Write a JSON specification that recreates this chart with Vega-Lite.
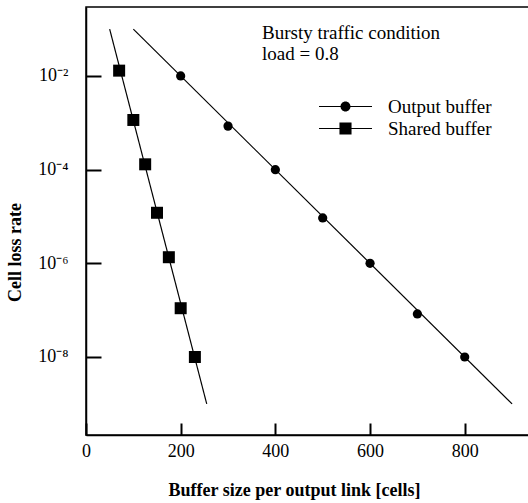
{
  "$schema": "https://vega.github.io/schema/vega-lite/v6.json",
  "width": 445,
  "height": 428,
  "autosize": "none",
  "padding": {"left": 86, "top": 7, "right": 0, "bottom": 68},
  "background": "white",
  "config": {
    "view": {"stroke": "black", "strokeWidth": 1.5},
    "font": "Liberation Serif",
    "axis": {
      "labelFont": "Liberation Serif",
      "titleFont": "Liberation Serif",
      "labelColor": "black",
      "titleColor": "black",
      "tickColor": "black",
      "domainColor": "black",
      "domainWidth": 1.5,
      "tickWidth": 2,
      "grid": false,
      "labelFlush": false,
      "labelFontSize": 18,
      "titleFontSize": 18,
      "titleFontWeight": "bold"
    }
  },
  "title": {
    "text": ["Bursty traffic condition", "load = 0.8"],
    "anchor": "start",
    "frame": "group",
    "orient": "top",
    "offset": -57,
    "dx": 176,
    "font": "Liberation Serif",
    "fontSize": 19,
    "fontWeight": "normal",
    "color": "black",
    "lineHeight": 21
  },
  "datasets": {
    "fit": [
      {"series": "Output buffer", "x": 100, "y": 1e-1},
      {"series": "Output buffer", "x": 900, "y": 1e-9},
      {"series": "Shared buffer", "x": 50, "y": 1e-1},
      {"series": "Shared buffer", "x": 255, "y": 1e-9}
    ],
    "points": [
      {"series": "Output buffer", "x": 200, "y": 1.0e-2},
      {"series": "Output buffer", "x": 300, "y": 8.5e-4},
      {"series": "Output buffer", "x": 400, "y": 1.0e-4},
      {"series": "Output buffer", "x": 500, "y": 9.3e-6},
      {"series": "Output buffer", "x": 600, "y": 1.0e-6},
      {"series": "Output buffer", "x": 700, "y": 8.3e-8},
      {"series": "Output buffer", "x": 800, "y": 1.0e-8},
      {"series": "Shared buffer", "x": 70, "y": 1.3e-2},
      {"series": "Shared buffer", "x": 100, "y": 1.15e-3},
      {"series": "Shared buffer", "x": 125, "y": 1.3e-4},
      {"series": "Shared buffer", "x": 150, "y": 1.2e-5},
      {"series": "Shared buffer", "x": 175, "y": 1.35e-6},
      {"series": "Shared buffer", "x": 200, "y": 1.1e-7},
      {"series": "Shared buffer", "x": 230, "y": 1.0e-8}
    ]
  },
  "layer": [
    {
      "data": {"name": "fit"},
      "mark": {"type": "line", "color": "black", "strokeWidth": 1.2},
      "encoding": {
        "x": {
          "field": "x",
          "type": "quantitative",
          "scale": {"domain": [0, 940], "nice": false, "zero": false},
          "axis": {
            "orient": "bottom",
            "values": [0, 200, 400, 600, 800],
            "tickSize": -12,
            "labelPadding": 19,
            "title": "Buffer size per output link [cells]",
            "titleX": 208,
            "titleY": 55,
            "titleAlign": "center",
            "titleBaseline": "middle"
          }
        },
        "y": {
          "field": "y",
          "type": "quantitative",
          "scale": {"type": "log", "domain": [2.16e-10, 0.297], "nice": false, "zero": false},
          "axis": {
            "orient": "left",
            "values": [1e-2, 1e-4, 1e-6, 1e-8],
            "labelExpr": "datum.value > 0.005 ? '10⁻²' : datum.value > 0.00005 ? '10⁻⁴' : datum.value > 0.0000005 ? '10⁻⁶' : '10⁻⁸'",
            "tickSize": -15,
            "labelPadding": 33,
            "title": "Cell loss rate",
            "titleX": -71,
            "titleY": 245,
            "titleAngle": -90,
            "titleAlign": "center",
            "titleBaseline": "middle"
          }
        },
        "detail": {"field": "series"}
      }
    },
    {
      "data": {"name": "points"},
      "mark": {"type": "point", "filled": true, "color": "black", "opacity": 1},
      "encoding": {
        "x": {"field": "x", "type": "quantitative"},
        "y": {"field": "y", "type": "quantitative"},
        "shape": {
          "field": "series",
          "scale": {"domain": ["Output buffer", "Shared buffer"], "range": ["circle", "square"]},
          "legend": null
        },
        "size": {
          "field": "series",
          "scale": {"domain": ["Output buffer", "Shared buffer"], "range": [85, 144]},
          "legend": null
        }
      }
    },
    {
      "data": {"name": "points"},
      "mark": {"type": "point", "filled": true, "color": "black", "opacity": 0},
      "encoding": {
        "x": {"field": "x", "type": "quantitative"},
        "y": {"field": "y", "type": "quantitative"},
        "shape": {
          "field": "series",
          "scale": {
            "domain": ["Output buffer", "Shared buffer"],
            "range": [
              "M-2.5,-0.05 L-0.4,-0.05 L-0.4,0.05 L-2.5,0.05 Z M0.4,-0.05 L2.5,-0.05 L2.5,0.05 L0.4,0.05 Z M0.47,0 A0.47,0.47 0 1,1 -0.47,0 A0.47,0.47 0 1,1 0.47,0 Z",
              "M-2.5,-0.05 L-0.5,-0.05 L-0.5,0.05 L-2.5,0.05 Z M0.5,-0.05 L2.5,-0.05 L2.5,0.05 L0.5,0.05 Z M-0.57,-0.57 L0.57,-0.57 L0.57,0.57 L-0.57,0.57 Z"
            ]
          },
          "legend": {
            "title": null,
            "orient": "none",
            "legendX": 248,
            "legendY": 88,
            "symbolSize": 449,
            "labelFont": "Liberation Serif",
            "labelFontSize": 19,
            "labelColor": "black",
            "labelOffset": 31,
            "rowPadding": -5,
            "encode": {
              "symbols": {
                "update": {
                  "opacity": {"value": 1},
                  "fill": {"value": "black"},
                  "fillOpacity": {"value": 1},
                  "stroke": {"value": "transparent"}
                }
              }
            }
          }
        }
      }
    }
  ],
  "resolve": {"scale": {"shape": "independent"}}
}
